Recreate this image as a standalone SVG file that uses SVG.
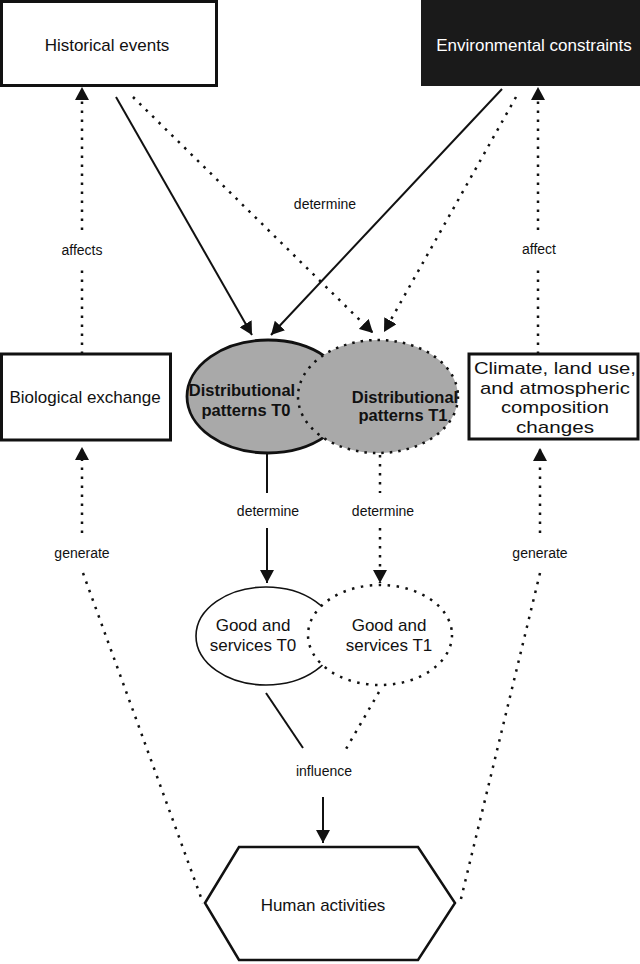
<svg xmlns="http://www.w3.org/2000/svg" width="640" height="964" viewBox="0 0 640 964">
<style>
text{font-family:"Liberation Sans",Arial,sans-serif;fill:#111;text-anchor:middle}
.main{font-size:17px}
.lbl{font-size:14px}
.bold{font-size:16.5px;font-weight:bold}
.clim{font-size:17px}
.box{fill:#fff;stroke:#111;stroke-width:3}
.solid{fill:none;stroke:#111;stroke-width:2}
.dot{fill:none;stroke:#111;stroke-width:2.5;stroke-dasharray:2.5 6.5}
</style>
<defs>
<marker id="ah" viewBox="0 0 13 14" refX="13" refY="7" markerWidth="13" markerHeight="14" markerUnits="userSpaceOnUse" orient="auto">
<path d="M0,0 L13,7 L0,14 Z" fill="#111"/>
</marker>
</defs>

<g id="historical">
<rect class="box" x="1.5" y="1.5" width="215" height="84"/>
<text class="main" x="107" y="51">Historical events</text>
</g>

<g id="environmental">
<rect x="421" y="0" width="219" height="86" fill="#1a1a1a"/>
<text class="main" x="534" y="51" style="fill:#fff">Environmental constraints</text>
</g>

<g id="biological">
<rect class="box" x="1.5" y="354" width="169" height="86"/>
<text class="main" x="85" y="403">Biological exchange</text>
</g>

<g id="climate">
<rect class="box" x="469" y="354" width="169" height="85"/>
<text class="clim" x="555" y="374" textLength="162" lengthAdjust="spacingAndGlyphs">Climate, land use,</text>
<text class="clim" x="555" y="393.5" textLength="150" lengthAdjust="spacingAndGlyphs">and atmospheric</text>
<text class="clim" x="555" y="413" textLength="108" lengthAdjust="spacingAndGlyphs">composition</text>
<text class="clim" x="555" y="432.5" textLength="78" lengthAdjust="spacingAndGlyphs">changes</text>
</g>

<g id="dist-t0">
<ellipse cx="268" cy="396.5" rx="81" ry="56.5" fill="#a9a9a9" stroke="#111" stroke-width="2.8"/>
</g>
<g id="dist-t1">
<ellipse cx="378" cy="396.5" rx="80" ry="56.5" fill="#a9a9a9" stroke="#111" stroke-width="2.5" stroke-dasharray="2.5 6"/>
</g>
<g id="dist-labels">
<text class="bold" x="242" y="396">Distributional</text>
<text class="bold" x="246" y="416">patterns T0</text>
<text class="bold" x="405" y="403">Distributional</text>
<text class="bold" x="403" y="421">patterns T1</text>
</g>

<g id="goods-t0">
<ellipse cx="266" cy="636" rx="70" ry="49" fill="#fff" stroke="#111" stroke-width="1.6"/>
</g>
<g id="goods-t1">
<ellipse cx="380" cy="635" rx="72" ry="50" fill="#fff" stroke="#111" stroke-width="2.5" stroke-dasharray="2.5 6.5"/>
</g>
<g id="goods-labels">
<text class="main" x="253" y="631">Good and</text>
<text class="main" x="253" y="651">services T0</text>
<text class="main" x="389" y="631">Good and</text>
<text class="main" x="389" y="651">services T1</text>
</g>

<g id="human">
<polygon points="205,903 239,847 418,847 455,903 418,960 239,960" fill="#fff" stroke="#111" stroke-width="2.5"/>
<text class="main" x="323" y="911">Human activities</text>
</g>

<g id="connectors">
<line class="dot" x1="82" y1="354" x2="82" y2="270"/>
<line class="dot" x1="82" y1="230" x2="82" y2="87" marker-end="url(#ah)"/>
<line class="dot" x1="538" y1="354" x2="538" y2="270"/>
<line class="dot" x1="538" y1="230" x2="538" y2="87" marker-end="url(#ah)"/>
<line class="solid" x1="116" y1="97" x2="252" y2="335" marker-end="url(#ah)"/>
<line class="solid" x1="502" y1="89" x2="271" y2="335" marker-end="url(#ah)"/>
<line class="dot" x1="133" y1="97" x2="373" y2="333" marker-end="url(#ah)"/>
<line class="dot" x1="516" y1="97" x2="384" y2="332" marker-end="url(#ah)"/>
<line class="solid" x1="267" y1="453" x2="267" y2="493"/>
<line class="solid" x1="267" y1="528" x2="267" y2="583" marker-end="url(#ah)"/>
<line class="dot" x1="380" y1="455" x2="380" y2="493"/>
<line class="dot" x1="380" y1="528" x2="380" y2="583" marker-end="url(#ah)"/>
<line class="dot" x1="82" y1="533" x2="82" y2="447" marker-end="url(#ah)"/>
<line class="dot" x1="83" y1="573" x2="203" y2="903"/>
<line class="dot" x1="540" y1="533" x2="540" y2="448" marker-end="url(#ah)"/>
<line class="dot" x1="540" y1="573" x2="460" y2="903"/>
<line class="solid" x1="266" y1="693" x2="303" y2="748"/>
<line class="dot" x1="379" y1="692" x2="346" y2="749"/>
<line class="solid" x1="323" y1="797" x2="323" y2="843" marker-end="url(#ah)"/>
</g>

<g id="labels">
<text class="lbl" x="325" y="209">determine</text>
<text class="lbl" x="82" y="255">affects</text>
<text class="lbl" x="539" y="254">affect</text>
<text class="lbl" x="268" y="516">determine</text>
<text class="lbl" x="383" y="516">determine</text>
<text class="lbl" x="82" y="558">generate</text>
<text class="lbl" x="540" y="558">generate</text>
<text class="lbl" x="324" y="776">influence</text>
</g>
</svg>
